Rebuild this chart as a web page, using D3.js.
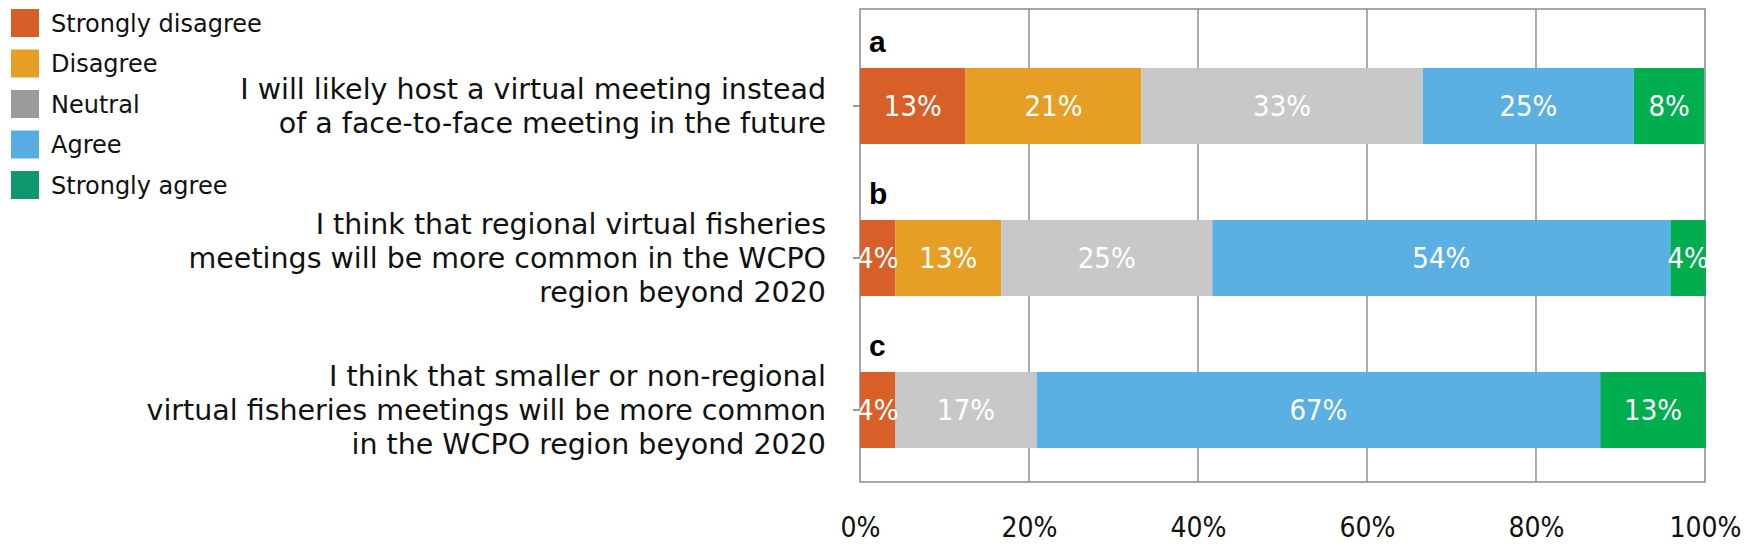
<!DOCTYPE html>
<html><head><meta charset="utf-8">
<script src="https://cdn.jsdelivr.net/npm/d3@7"></script>
<style>body{margin:0;background:#fff}svg{display:block}</style>
</head><body>
<svg id="chart" width="1750" height="551"></svg>
<script>
const categories = ["a","b","c"];
const questionLines = [
  ["I will likely host a virtual meeting instead","of a face-to-face meeting in the future"],
  ["I think that regional virtual fisheries","meetings will be more common in the WCPO","region beyond 2020"],
  ["I think that smaller or non-regional","virtual fisheries meetings will be more common","in the WCPO region beyond 2020"]
];
const seriesNames = ["Strongly disagree","Disagree","Neutral","Agree","Strongly agree"];
const stronglyDisagree = [12.5, 4.2, 4.2];
const disagree = [20.8, 12.5, 0];
const neutral = [33.3, 25.0, 16.7];
const agree = [25.0, 54.2, 66.7];
const stronglyAgree = [8.3, 4.2, 12.5];
const xTicks = [0,20,40,60,80,100];
const barColors = ["#D85F27","#E69F24","#C8C8C8","#5AAFE3","#00AD4F"];
const legendColors = ["#D65F27","#E69F24","#9B9B9B","#57ADE2","#11976F"];

const FONT_C = "'DejaVu Sans Condensed', 'DejaVu Sans', sans-serif";
const FONT = "'DejaVu Sans', sans-serif";
const seriesValues = [stronglyDisagree, disagree, neutral, agree, stronglyAgree];
const rows = categories.map((c,i)=>{
  const r = {cat:c};
  seriesNames.forEach((s,j)=>r[s]=seriesValues[j][i]);
  return r;
});
const stack = d3.stack().keys(seriesNames)(rows);

const svg = d3.select("#chart");
const plotTop = 9, plotBottom = 482;
const x = d3.scaleLinear().domain([0,100]).range([860,1705]);
const y = d3.scaleBand().domain(categories).range([30, 486]).paddingInner(0.5).paddingOuter(0.25);
const color = d3.scaleOrdinal().domain(seriesNames).range(barColors);

// gridlines
svg.append("g").selectAll("line").data(xTicks.slice(1,-1)).join("line")
  .attr("x1",d=>x(d)).attr("x2",d=>x(d)).attr("y1",plotTop).attr("y2",plotBottom)
  .attr("stroke","#808080").attr("stroke-width",1.3);
// border
svg.append("rect").attr("x",x(0)).attr("y",plotTop).attr("width",x(100)-x(0)).attr("height",plotBottom-plotTop)
  .attr("fill","none").attr("stroke","#8a8a8a").attr("stroke-width",1.5);

// bars
const g = svg.append("g");
stack.forEach(layer=>{
  g.append("g").selectAll("rect").data(layer).join("rect")
    .attr("x",d=>x(d[0])).attr("width",d=>x(d[1])-x(d[0]))
    .attr("y",d=>y(d.data.cat)).attr("height",y.bandwidth())
    .attr("fill",color(layer.key));
});
// bar labels
stack.forEach(layer=>{
  g.append("g").selectAll("text").data(layer.filter(d=>d[1]-d[0]>0)).join("text")
    .attr("x",d=>(x(d[0])+x(d[1]))/2).attr("y",d=>y(d.data.cat)+y.bandwidth()/2)
    .attr("dy","0.36em").attr("text-anchor","middle")
    .attr("font-family",FONT_C).attr("font-size",29).attr("fill","#fff")
    .text(d=>Math.round(d[1]-d[0])+"%");
});

// left axis ticks
const yAxis = d3.axisLeft(y).tickSize(7).tickFormat("");
svg.append("g").attr("transform",`translate(${x(0)},0)`).call(yAxis)
  .call(a=>a.select(".domain").remove())
  .selectAll("line").attr("stroke","#666").attr("stroke-width",1.3);

// panel letters
svg.append("g").selectAll("text").data(categories).join("text")
  .attr("x",x(0)+9).attr("y",d=>y(d)-16)
  .attr("font-family","Liberation Sans, Arial, sans-serif").attr("font-weight","bold")
  .attr("font-size",30).attr("fill","#000").text(d=>d);

// question labels
const lineH = 34;
categories.forEach((c,i)=>{
  const lines = questionLines[i];
  const cy = y(c)+y.bandwidth()/2;
  const t = svg.append("text").attr("text-anchor","end")
    .attr("font-family",FONT).attr("font-size",28.5).attr("fill","#111");
  lines.forEach((l,k)=>{
    t.append("tspan").attr("x",826).attr("y",cy + (k-(lines.length-1)/2)*lineH).attr("dy","0.36em").text(l);
  });
});

// x axis
const xAxis = d3.axisBottom(x).tickValues(xTicks).tickSize(0).tickPadding(35).tickFormat(d=>d+"%");
svg.append("g").attr("transform",`translate(0,${plotBottom})`).call(xAxis)
  .call(a=>a.select(".domain").remove())
  .selectAll("text").attr("font-family",FONT_C).attr("font-size",28).attr("fill","#111");

// legend
const leg = svg.append("g").selectAll("g").data(seriesNames).join("g")
  .attr("transform",(d,i)=>`translate(11,${9+i*40.5})`);
leg.append("rect").attr("width",28).attr("height",28).attr("fill",(d,i)=>legendColors[i]);
leg.append("text").attr("x",40).attr("y",14).attr("dy","0.36em")
  .attr("font-family",FONT).attr("font-size",24).attr("fill","#111").text(d=>d);
</script>
</body></html>
